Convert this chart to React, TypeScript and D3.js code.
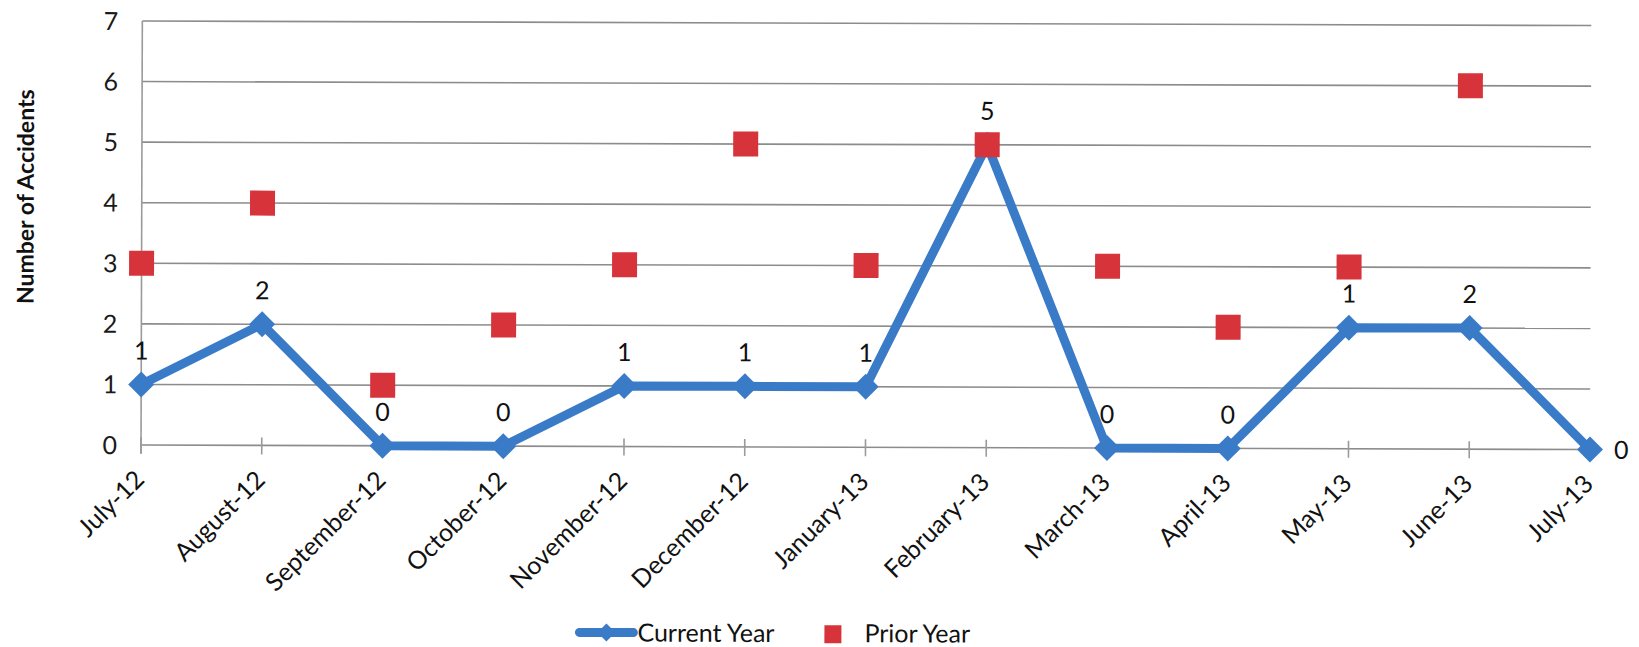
import React from "react";
import * as d3 from "d3";

const months = [
  "July-12", "August-12", "September-12", "October-12", "November-12", "December-12",
  "January-13", "February-13", "March-13", "April-13", "May-13", "June-13", "July-13",
];
const currentYear = [1, 2, 0, 0, 1, 1, 1, 5, 0, 0, 2, 2, 0];
const currentYearLabels = ["1", "2", "0", "0", "1", "1", "1", "5", "0", "0", "1", "2", "0"];
const priorYear: (number | null)[] = [3, 4, 1, 2, 3, 5, 3, 5, 3, 2, 3, 6, null];
const yTicks = [0, 1, 2, 3, 4, 5, 6, 7];

const W = 1639;
const H = 647;
const BLUE = "#3a7bc8";
const RED = "#d6333b";
const FONT = "Lato, 'Liberation Sans', sans-serif";

export default function App() {
  const x = d3.scalePoint<string>().domain(months).range([141, 1590]);
  const y = d3.scaleLinear().domain([0, 7]).range([445, 21]);
  const line = d3
    .line<number>()
    .x((_, i) => x(months[i]) as number)
    .y((d) => y(d));
  const diamond = (cx: number, cy: number, r: number) =>
    `M${cx},${cy - r}L${cx + r},${cy}L${cx},${cy + r}L${cx - r},${cy}Z`;
  const [x0, x1] = x.range();

  return (
    <div style={{ position: "absolute", left: 0, top: 0 }}>
      <svg width={W} height={H} style={{ display: "block", background: "#fff" }}>
        <g transform="rotate(0.18, 141, 445)">
          {yTicks.map((t) => (
            <line key={"g" + t} x1={x0} x2={x1} y1={y(t)} y2={y(t)} stroke="#8c8c8c" strokeWidth={1.6} />
          ))}
          <line x1={x0} x2={x0} y1={y(7)} y2={y(0) + 8} stroke="#9a9a9a" strokeWidth={1.6} />
          {months.map((m) => (
            <line key={"t" + m} x1={x(m)} x2={x(m)} y1={y(0) - 8} y2={y(0) + 9} stroke="#9a9a9a" strokeWidth={1.6} />
          ))}
          {yTicks.map((t) => (
            <text key={"yl" + t} x={117} y={y(t)} dy="0.36em" textAnchor="end" fontFamily={FONT} fontSize={25} fill="#1a1a1a">
              {t}
            </text>
          ))}
          {months.map((m) => (
            <text
              key={"xl" + m}
              transform={`translate(${(x(m) as number) + 5},481) rotate(-45)`}
              textAnchor="end"
              fontFamily={FONT}
              fontSize={25}
              fill="#111"
            >
              {m}
            </text>
          ))}
          <text
            transform="translate(24,197) rotate(-90)"
            textAnchor="middle"
            dominantBaseline="central"
            fontFamily={FONT}
            fontWeight="bold"
            fontSize={23}
            fill="#111"
          >
            Number of Accidents
          </text>

          <path d={line(currentYear) || ""} fill="none" stroke={BLUE} strokeWidth={9} strokeLinejoin="round" />
          {currentYear.map((v, i) => (
            <path key={"d" + i} d={diamond(x(months[i]) as number, y(v), 13)} fill={BLUE} />
          ))}
          {priorYear.map((v, i) =>
            v === null ? null : (
              <rect key={"s" + i} x={(x(months[i]) as number) - 12.5} y={y(v) - 12.5} width={25} height={25} fill={RED} />
            )
          )}
          {currentYearLabels.map((lab, i) => {
            const last = i === months.length - 1;
            const px = x(months[i]) as number;
            const py = y(currentYear[i]);
            return (
              <text
                key={"lab" + i}
                x={last ? px + 24 : px}
                y={last ? py : py - 34}
                dy="0.36em"
                textAnchor={last ? "start" : "middle"}
                fontFamily={FONT}
                fontSize={25}
                fill="#111"
              >
                {lab}
              </text>
            );
          })}

          <g>
            <line x1={580} x2={634} y1={631} y2={631} stroke={BLUE} strokeWidth={9} strokeLinecap="round" />
            <path d={diamond(607, 631, 9)} fill={BLUE} />
            <text x={638} y={631} dy="0.36em" fontFamily={FONT} fontSize={25} fill="#111">
              Current Year
            </text>
            <rect x={825} y={623} width={17} height={18} fill={RED} />
            <text x={865} y={631} dy="0.36em" fontFamily={FONT} fontSize={25} fill="#111">
              Prior Year
            </text>
          </g>
        </g>
      </svg>
    </div>
  );
}
